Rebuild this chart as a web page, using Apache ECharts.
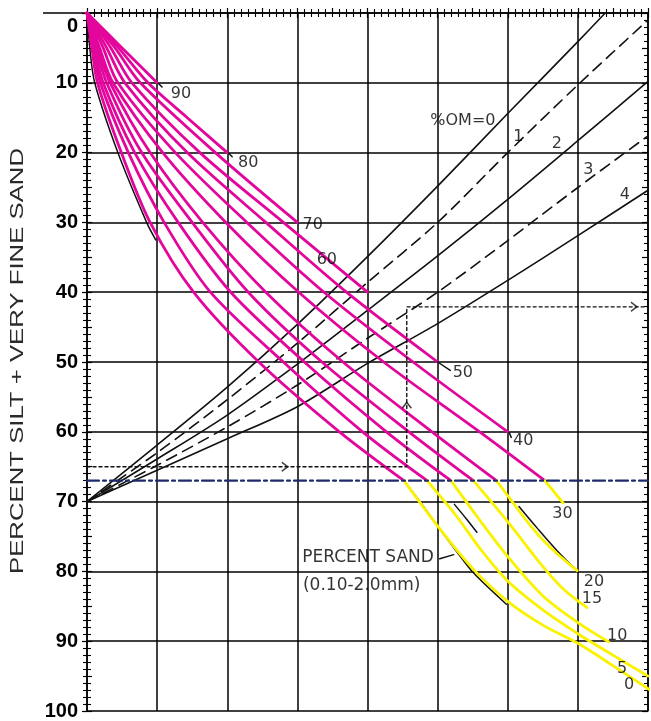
<!DOCTYPE html>
<html><head><meta charset="utf-8">
<script src="https://cdn.jsdelivr.net/npm/echarts/dist/echarts.min.js"></script>
<style>html,body{margin:0;padding:0;background:#fff}#c{width:651px;height:721px}</style>
</head><body><div id="c"></div>
<script>
// ---- tick labels ----
const yTickLabels = [0,10,20,30,40,50,60,70,80,90,100];
const xGrid = [0,10,20,30,40,50,60,70,80];

// ---- percent sand curves, upper (magenta) part: [x, silt+vfs] ----
const sand90 = [[0,0],[5,5],[10,10]];
const sand80 = [[0,0],[4.5,5],[8.7,10],[14.3,15],[20,20]];
const sand70 = [[0,0],[4,5],[7.6,10],[18.3,20],[30,30]];
const sand60 = [[0,0],[3.4,5],[6.4,10],[16.1,20],[28,30],[40,40]];
const sand50 = [[0,0],[2.8,5],[5.4,10],[14.3,20],[25.5,30],[37,40],[50,50]];
const sand40 = [[0,0],[2.3,5],[4.4,10],[12.6,20],[22.8,30],[33.8,40],[46.5,50],[60,60]];
const sand30 = [[0,0],[1.8,5],[3.7,10],[10.8,20],[19.8,30],[30.2,40],[42.3,50],[56,60],[65.3,67]];
const sand20 = [[0,0],[1.5,5],[3.3,10],[9,20],[16.5,30],[25.5,40],[36.5,50],[49.2,60],[58.4,67]];
const sand15 = [[0,0],[1.3,5],[2.8,10],[7.8,20],[15,30],[23,40],[33.5,50],[45.9,60],[55.1,67]];
const sand10 = [[0,0],[1.1,5],[2.3,10],[6.8,20],[13,30],[20.5,40],[31,50],[42.7,60],[51.9,67]];
const sand5  = [[0,0],[0.9,5],[1.9,10],[5.9,20],[11,30],[17.6,40],[28,50],[39.3,60],[48.5,67]];
const sand0  = [[0,0],[0.7,5],[1.5,10],[4.9,20],[9,30],[15.2,40],[24.5,50],[36,60],[45.2,67]];

// ---- percent sand curves, lower (yellow) part ----
const sand30Low = [[65.3,67],[67.9,70.2]];
const sand20Low = [[58.4,67],[60.1,69.3],[63.2,73.4],[66,76.5],[69.9,79.9]];
const sand15Low = [[55.1,67],[60.1,73],[64.6,78.8],[68,82.6],[71.3,85.2]];
const sand10Low = [[51.9,67],[55.6,72.1],[60.1,78],[65.1,83.6],[70.1,87.4],[74.4,90.1]];
const sand5Low  = [[48.5,67],[52.7,72.1],[56.1,76.8],[60.1,81.5],[65.1,85.6],[70.1,89],[75,92],[80,95]];
const sand0Low  = [[45.2,67],[50,73.5],[55,79.6],[60,84.3],[65,87.7],[70,90.3],[75,93.5],[80.3,97]];

// ---- visible traces of the original black sand curves ----
const orig0Top = [[0,0],[0.4,5],[1.1,10],[4.4,20],[8.5,30],[9.8,32.5]];
const orig0Low = [[45.5,67.4],[48,70.7],[50.2,73.8],[52.6,77],[55.1,80.2],[59.8,84.7]];
const orig20Low = [[61.6,70.7],[64.2,73.8],[67.1,77.1],[70,80]];
const orig10Low = [[52.4,70.4],[54.2,72.6],[55.6,74.4]];

// ---- percent organic matter lines ----
const om0 = [[0,70],[10,61.9],[20,53.6],[30,44.6],[40,34.9],[50,24.8],[60,14.4],[70,4.1],[73.9,0]];
const om1 = [[0,70],[10,63],[20,55.4],[30,47.3],[40,38.6],[50,30],[60,20],[70,10.3],[80,1]];
const om2 = [[0,70],[10,63.9],[20,57.6],[30,50.3],[40,42.6],[50,34.8],[60,26.7],[70,18.3],[80,9.8]];
const om3 = [[0,70],[10,64.8],[20,59.3],[30,53.3],[40,46.6],[50,40],[60,32.6],[70,25],[80,17.6]];
const om4 = [[0,70],[10,65.5],[20,61],[30,56.4],[40,50.2],[50,44.5],[60,38.3],[70,31.9],[80,25.4]];

// ---- example path and reference line ----
const refLine = [[0,67],[80,67]];
const examplePath = [[0,65],[45.6,65],[45.6,42.1],[80,42.1]];
const exampleArrows = [[28.2,65,'right'],[45.6,56.2,'up'],[78,42.1,'right']];

// ---- short leader strokes from curve ends to their labels ----
const leader50 = [[50,50],[51.8,51.2]];
const leaderSand = [[50.3,78.2],[52.3,77.6]];
const hook90 = [[10.2,10.1],[10.7,10.6]];
const hook80 = [[20.2,20.1],[20.7,20.6]];
const hook40 = [[60.2,60.1],[60.5,60.8]];

// ---- annotation texts at data coordinates ----
const curveLabels = [
  ['90',13.4,11.6],['80',23.0,21.4],['70',32.2,30.4],['60',34.2,35.4],['50',53.6,51.5],['40',62.2,61.3],
  ['30',67.8,71.8],['20',72.3,81.5],['15',72.0,83.9],['10',75.6,89.3],['5',76.3,94.0],['0',77.3,96.3],
  ['%OM=0',53.6,15.4],['1',61.5,17.7],['2',67.0,18.8],['3',71.5,22.4],['4',76.7,26.0]
];
const noteLabels = [['PERCENT SAND',30.7,78.0],['(0.10-2.0mm)',30.8,82.0]];

const MAG = '#e3069c', YEL = '#fbf200', BLK = '#111';
const chart = echarts.init(document.getElementById('c'));

function ln(data, color, width, type, z, smooth) {
  return {type:'line', data, symbol:'none', showSymbol:false, smooth: smooth === undefined ? 0.3 : smooth,
    lineStyle:{color, width, type: type || 'solid', cap:'round'}, z, silent:true, animation:false};
}
const series = [];
[om0, om2, om4].forEach(d => series.push(ln(d, BLK, 1.6, 'solid', 3)));
[om1, om3].forEach(d => series.push(ln(d, BLK, 1.6, [11,7], 3)));
[orig0Top, orig0Low, orig20Low, orig10Low].forEach(d => series.push(ln(d, BLK, 1.5, 'solid', 4)));
[sand90,sand80,sand70,sand60,sand50,sand40,sand30,sand20,sand15,sand10,sand5,sand0]
  .forEach(d => series.push(ln(d, MAG, 2.8, 'solid', 5)));
[sand30Low,sand20Low,sand15Low,sand10Low,sand5Low,sand0Low]
  .forEach(d => series.push(ln(d, YEL, 2.8, 'solid', 5)));
[leader50, leaderSand, hook90, hook80, hook40].forEach(d => series.push(ln(d, BLK, 1.5, 'solid', 6, false)));
series.push(ln(examplePath, BLK, 1.4, [3,3], 6, false));
series.push(ln(refLine, '#1c2b6b', 2.2, [12,4,3,4], 7, false));
series.push({type:'scatter', z:8, silent:true, animation:false,
  symbol:'path://M0,10 L5,0 L10,10', symbolSize:[9,6],
  itemStyle:{color:'none', borderColor:BLK, borderWidth:1.4},
  data: exampleArrows.map(a => ({value:[a[0],a[1]], symbolRotate: a[2]==='right' ? -90 : 0}))});
series.push({type:'scatter', z:9, silent:true, animation:false, symbolSize:0,
  data: curveLabels.map(l => ({value:[l[1],l[2]], name:l[0]})),
  label:{show:true, position:'inside', formatter:'{b}', color:'#000', fontSize:16, fontFamily:'DejaVu Sans'}});
series.push({type:'scatter', z:9, silent:true, animation:false, symbolSize:0,
  data: noteLabels.map(l => ({value:[l[1],l[2]], name:l[0]})),
  label:{show:true, position:'inside', align:'left', formatter:'{b}', color:'#000', fontSize:17, fontFamily:'DejaVu Sans'}});

const tickBase = {show:true, lineStyle:{color:'#000', width:1.2}};
chart.setOption({
  animation:false,
  backgroundColor:'#fff',
  grid:{left:87, right:3, top:13, bottom:7},
  xAxis:[
    {type:'value', min:xGrid[0], max:xGrid[xGrid.length-1], interval:10, position:'bottom',
     axisLine:{show:true, lineStyle:{color:'#000', width:1.5}},
     axisTick:Object.assign({length:5}, tickBase), minorTick:{show:true, splitNumber:10, length:4, lineStyle:{color:'#000', width:1.1}},
     axisLabel:{show:false}, splitLine:{show:true, lineStyle:{color:'#000', width:1.5}}},
    {type:'value', min:0, max:80, interval:5, position:'bottom',
     axisLine:{show:false}, axisTick:Object.assign({length:5, inside:true}, tickBase),
     minorTick:{show:true, splitNumber:5, length:4, lineStyle:{color:'#000', width:1.1}},
     axisLabel:{show:false}, splitLine:{show:false}}
  ],
  yAxis:[
    {type:'value', inverse:true, min:yTickLabels[0], max:yTickLabels[yTickLabels.length-1], interval:10, position:'left',
     axisLine:{show:true, lineStyle:{color:'#000', width:1.5}},
     axisTick:Object.assign({length:5}, tickBase), minorTick:{show:true, splitNumber:10, length:4, lineStyle:{color:'#000', width:1.1}},
     axisLabel:{margin:9, color:'#000', fontSize:20, fontWeight:'bold', fontFamily:'Liberation Sans',
       formatter: v => v === 0 ? '{z|0}' : (yTickLabels.indexOf(v) >= 0 ? String(v) : ''),
       rich:{z:{padding:[26,0,0,0], fontSize:20, fontWeight:'bold', fontFamily:'Liberation Sans', color:'#000'}}},
     splitLine:{show:true, lineStyle:{color:'#000', width:1.5}}},
    {type:'value', inverse:true, min:0, max:100, interval:5, position:'left',
     axisLine:{show:false}, axisTick:Object.assign({length:5, inside:true}, tickBase),
     minorTick:{show:true, splitNumber:5, length:4, lineStyle:{color:'#000', width:1.1}},
     axisLabel:{show:false}, splitLine:{show:false}},
    {type:'value', inverse:true, min:0, max:100, interval:5, position:'right',
     axisLine:{show:true, lineStyle:{color:'#000', width:1.5}}, axisTick:Object.assign({length:6, inside:true}, tickBase),
     minorTick:{show:true, splitNumber:5, length:4, lineStyle:{color:'#000', width:1.1}},
     axisLabel:{show:false}, splitLine:{show:false}}
  ],
  graphic:[
    {type:'line', shape:{x1:43, y1:13, x2:88, y2:13}, style:{stroke:'#000', lineWidth:1.5}},
    {type:'text', x:18.5, y:361, rotation:Math.PI/2, scaleX:1.43,
     style:{text:'PERCENT SILT + VERY FINE SAND', font:'18px "Liberation Sans"', fill:'#2a2a2a',
       textAlign:'center', textVerticalAlign:'middle', verticalAlign:'middle'}}
  ],
  series
});
</script></body></html>
